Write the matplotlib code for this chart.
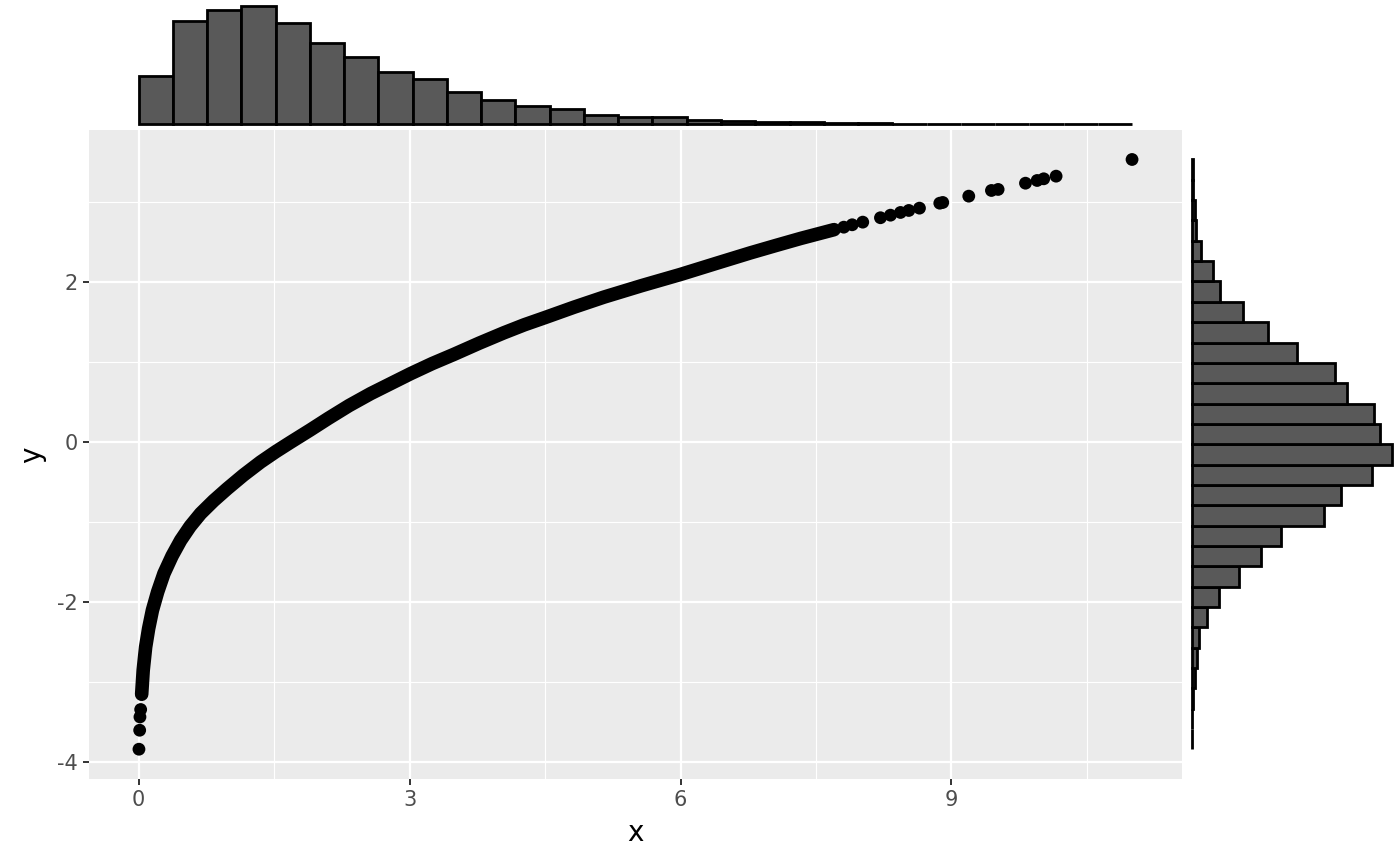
import numpy as np
import matplotlib
matplotlib.use("Agg")
import matplotlib.pyplot as plt

# ---- data ----
# dense part of the scatter (points overlap into a continuous band)
curve_x = [0.033, 0.05, 0.077, 0.11, 0.152, 0.21, 0.28, 0.37, 0.465, 0.57,
           0.686, 0.83, 0.98, 1.16, 1.35, 1.52, 1.68, 1.9, 2.1, 2.33,
           2.568, 2.8, 3.011, 3.25, 3.49, 3.77, 4.044, 4.27, 4.498, 4.82,
           5.151, 5.57, 6.0, 6.4, 6.775, 7.05, 7.33, 7.70]
curve_y = [-3.15, -2.85, -2.56, -2.33, -2.10, -1.87, -1.64, -1.42, -1.225, -1.05,
           -0.89, -0.73, -0.58, -0.41, -0.246, -0.115, 0.0, 0.155, 0.30, 0.46,
           0.609, 0.74, 0.859, 0.985, 1.10, 1.24, 1.37, 1.47, 1.56, 1.69,
           1.816, 1.96, 2.10, 2.24, 2.37, 2.46, 2.55, 2.66]
# isolated points (tails)
pts_x = [0.003, 0.011, 0.014, 0.022,
         7.808, 7.901, 8.018, 8.214, 8.325, 8.436, 8.528, 8.646, 8.871, 8.904,
         9.192, 9.443, 9.517, 9.82, 9.949, 10.022, 10.159, 11.0]
pts_y = [-3.8375, -3.6, -3.434, -3.341,
         2.691, 2.721, 2.754, 2.809, 2.841, 2.875, 2.90, 2.929, 2.991, 3.0,
         3.079, 3.15, 3.163, 3.241, 3.275, 3.296, 3.329, 3.5375]

# marginal histogram of x: 29 bins from 0 to 11.0
x_hist_lo, x_hist_hi = 0.0, 11.0
x_counts = [538, 1165, 1285, 1333, 1139, 915, 762, 590, 507, 366,
            277, 202, 171, 101, 82, 75, 45, 37, 28, 22,
            13, 8, 5, 3, 2, 2, 4, 0, 1]
# marginal histogram of y: 29 bins from -3.8375 to 3.5375 (bottom to top)
y_hist_lo, y_hist_hi = -3.8375, 3.5375
y_counts = [2, 2, 4, 15, 24, 37, 78, 138, 236, 347, 452, 665, 755, 911, 1011,
            950, 918, 784, 721, 530, 384, 259, 144, 104, 46, 22, 14, 7, 4]

x_major = [0, 3, 6, 9]
x_minor = [1.5, 4.5, 7.5, 10.5]
y_major = [-4, -2, 0, 2]
y_minor = [-3, -1, 1, 3]

# ---- figure ----
W, H = 1400, 866
fig = plt.figure(figsize=(14, 8.66), dpi=100)
plt.rcParams['font.family'] = ['DejaVu Sans']

def frac(l, t, r, b):
    return [l / W, 1 - b / H, (r - l) / W, (b - t) / H]

ax = fig.add_axes(frac(89.3, 130, 1181.7, 778.7))
axt = fig.add_axes(frac(89.3, 0, 1181.7, 130))
axr = fig.add_axes(frac(1182, 130, 1402, 778.7))

all_x = curve_x + pts_x
all_y = curve_y + pts_y
xr = max(all_x) - min(all_x)
yr = max(all_y) - min(all_y)
xlim = (min(all_x) - 0.05 * xr, max(all_x) + 0.05 * xr)
ylim = (min(all_y) - 0.05 * yr, max(all_y) + 0.05 * yr)

# main panel
ax.set_facecolor('#EBEBEB')
for v in x_minor:
    ax.axvline(v, color='white', lw=0.8, zorder=0)
for v in y_minor:
    ax.axhline(v, color='white', lw=0.8, zorder=0)
for v in x_major:
    ax.axvline(v, color='white', lw=1.6, zorder=0)
for v in y_major:
    ax.axhline(v, color='white', lw=1.6, zorder=0)

ax.plot(curve_x, curve_y, color='black', lw=9.8, solid_capstyle='round',
        solid_joinstyle='round', zorder=3)
ax.scatter(pts_x, pts_y, s=85, color='black', edgecolors='none', zorder=3)

ax.set_xlim(*xlim)
ax.set_ylim(*ylim)
ax.set_xticks(x_major)
ax.set_xticklabels([str(v) for v in x_major])
ax.set_yticks(y_major)
ax.set_yticklabels([str(v) for v in y_major])
ax.tick_params(axis='both', which='major', length=4.3, width=1.4, color='#333333',
               labelcolor='#4D4D4D', labelsize=15, pad=4)
for s in ax.spines.values():
    s.set_visible(False)
ax.set_xlabel('x', fontsize=20, labelpad=6)
ax.set_ylabel('y', fontsize=20, labelpad=8)

# top marginal histogram
xw = (x_hist_hi - x_hist_lo) / len(x_counts)
xedges = [x_hist_lo + i * xw for i in range(len(x_counts))]
axt.bar(xedges, x_counts, width=xw, align='edge', color='#595959',
        edgecolor='black', linewidth=2.0)
mx = max(x_counts)
axt.set_xlim(*xlim)
axt.set_ylim(-0.05 * mx, 1.05 * mx)
axt.axis('off')

# right marginal histogram
yw = (y_hist_hi - y_hist_lo) / len(y_counts)
yedges = [y_hist_lo + i * yw for i in range(len(y_counts))]
axr.barh(yedges, y_counts, height=yw, align='edge', color='#595959',
         edgecolor='black', linewidth=2.0)
my = max(y_counts)
axr.set_ylim(*ylim)
axr.set_xlim(-0.05 * my, 1.05 * my)
axr.axis('off')

fig.savefig('out.png', dpi=100)
